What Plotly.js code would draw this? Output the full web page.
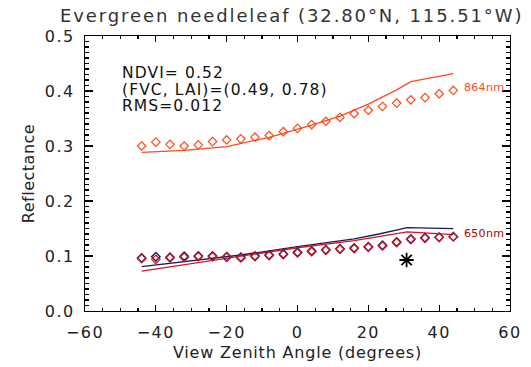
<!DOCTYPE html>
<html>
<head>
<meta charset="utf-8">
<script src="https://cdn.plot.ly/plotly-3.0.1.min.js"></script>
<style>html,body{margin:0;padding:0;background:#fff}</style>
</head>
<body>
<div id="chart" style="width:531px;height:367px"></div>
<script>
// View zenith angles of the observations (degrees)
const vza = [-44,-40,-36,-32,-28,-24,-20,-16,-12,-8,-4,0,4,8,12,16,20,24,28,32,36,40,44];

// 864 nm observed reflectance (diamonds)
const obs864 = [0.300,0.307,0.303,0.300,0.302,0.308,0.311,0.313,0.316,0.319,0.326,0.332,0.339,0.345,0.352,0.359,0.365,0.372,0.378,0.384,0.388,0.395,0.401];
// 650 nm observed reflectance, two series (navy and red diamonds)
const obs650a = [0.0964,0.0988,0.0976,0.0994,0.1000,0.1000,0.0988,0.0976,0.1000,0.1018,0.1036,0.1067,0.1090,0.1115,0.1133,0.1145,0.1170,0.1194,0.1255,0.1310,0.1333,0.1340,0.1352];
const obs650b = [0.0952,0.0940,0.0964,0.0976,0.0988,0.0988,0.0976,0.0964,0.0988,0.1006,0.1024,0.1055,0.1078,0.1103,0.1121,0.1133,0.1158,0.1182,0.1243,0.1298,0.1321,0.1340,0.1352];

// Modelled curves (lines)
const mod864x = [-44,-32,-20,-8,4,12,20,28,32,44];
const mod864y = [0.2885,0.292,0.2988,0.3158,0.338,0.3545,0.376,0.402,0.417,0.4315];
const mod650x = [-44,-16,0,16,23,31,44];
const mod650a = [0.0806,0.1018,0.117,0.131,0.140,0.1515,0.1497];
const mod650b = [0.0727,0.0988,0.115,0.128,0.136,0.144,0.139];

// Hotspot marker
const hotX = [30.8];
const hotY = [0.0927];

// Text
const titleText = 'Evergreen needleleaf (32.80°N, 115.51°W)';
const infoLines = ['NDVI= 0.52', '(FVC, LAI)=(0.49, 0.78)', 'RMS=0.012'];
const bandLabels = ['864nm', '650nm'];

const cOrange = '#ff4a1a';
const cNavy = '#1c1c5c';
const cRed = '#d8141e';
const cDarkRed = '#a80000';

const traces = [
  {x: mod864x, y: mod864y, mode:'lines', line:{color:cOrange, width:1.3}, name:'864 model'},
  {x: vza, y: obs864, mode:'markers', marker:{symbol:'diamond-open', size:6.5, color:cOrange, line:{width:1.2, color:cOrange}}, name:'864nm'},
  {x: mod650x, y: mod650a, mode:'lines', line:{color:cNavy, width:1.3}, name:'650 model a'},
  {x: mod650x, y: mod650b, mode:'lines', line:{color:cRed, width:1.3}, name:'650 model b'},
  {x: vza, y: obs650a, mode:'markers', marker:{symbol:'diamond-open', size:6.5, color:cNavy, line:{width:1.4, color:cNavy}}, name:'650 a'},
  {x: vza, y: obs650b, mode:'markers', marker:{symbol:'diamond-open', size:6.5, color:cRed, line:{width:1.2, color:cRed}}, name:'650 b'},
  {x: hotX, y: hotY, mode:'markers', marker:{symbol:'asterisk-open', size:12, color:'#000', line:{width:1.8, color:'#000'}}, name:'hotspot'}
];

const fontFam = 'DejaVu Sans, sans-serif';
const sp = (t, ls, fs) => '<span style="letter-spacing:' + ls + 'px' + (fs ? ';font-size:' + fs + 'px' : '') + '">' + t + '</span>';

const axBase = {
  showgrid:false, zeroline:false, showline:true, linecolor:'#000', linewidth:1,
  mirror:'allticks', ticks:'inside', tickcolor:'#000', tickwidth:1.3
};

const layout = {
  width:531, height:367,
  margin:{l:85, r:21, t:36, b:56},
  paper_bgcolor:'#fff', plot_bgcolor:'#fff',
  showlegend:false,
  font:{family:fontFam, color:'#222'},
  title:{text:sp(titleText, 1.9), font:{family:fontFam, size:18, color:'#333'},
         xref:'container', yref:'container', x:60/531, xanchor:'left', y:1-16/367, yanchor:'middle'},
  xaxis:Object.assign({}, axBase, {
    range:[-60,60], dtick:20, tick0:-60, ticklen:6,
    minor:{dtick:5, ticks:'inside', ticklen:3, tickcolor:'#000', tickwidth:1.3},
    ticklabelstandoff:7,
    tickfont:{family:fontFam, size:16, color:'#222'},
    title:{text:sp('View Zenith Angle (degrees)', 0.8), font:{family:fontFam, size:16, color:'#222'}, standoff:5}
  }),
  yaxis:Object.assign({}, axBase, {
    range:[0,0.5], dtick:0.1, tick0:0, tickformat:'.1f', ticklen:8,
    minor:{dtick:0.01, ticks:'inside', ticklen:4, tickcolor:'#000', tickwidth:1.3},
    ticklabelstandoff:6,
    tickfont:{family:fontFam, size:16, color:'#222'},
    title:{text:sp('Reflectance', 0.5), font:{family:fontFam, size:16, color:'#222'}, standoff:10}
  }),
  annotations:[
    {text:infoLines.map(t => sp(t, 1.1, 15.5)).join('<br>'), xref:'paper', yref:'paper', x:(120-85)/425, y:(311-89.3)/275,
     xanchor:'left', yanchor:'middle', align:'left', showarrow:false, font:{family:fontFam, size:12.8, color:'#111'}},
    {text:sp(bandLabels[0], 0.3), xref:'paper', yref:'paper', x:(462-85)/425, y:(311-87)/275, xanchor:'left', yanchor:'middle', showarrow:false, font:{family:fontFam, size:11, color:cOrange}},
    {text:sp(bandLabels[1], 0.3), xref:'paper', yref:'paper', x:(462-85)/425, y:(311-233)/275, xanchor:'left', yanchor:'middle', showarrow:false, font:{family:fontFam, size:11, color:cDarkRed}}
  ]
};

Plotly.newPlot('chart', traces, layout, {displayModeBar:false, staticPlot:true}).then(gd => {
  gd.querySelectorAll('.xtick text, .ytick text').forEach(t => { t.style.letterSpacing = '1.5px'; });
});
</script>
</body>
</html>
